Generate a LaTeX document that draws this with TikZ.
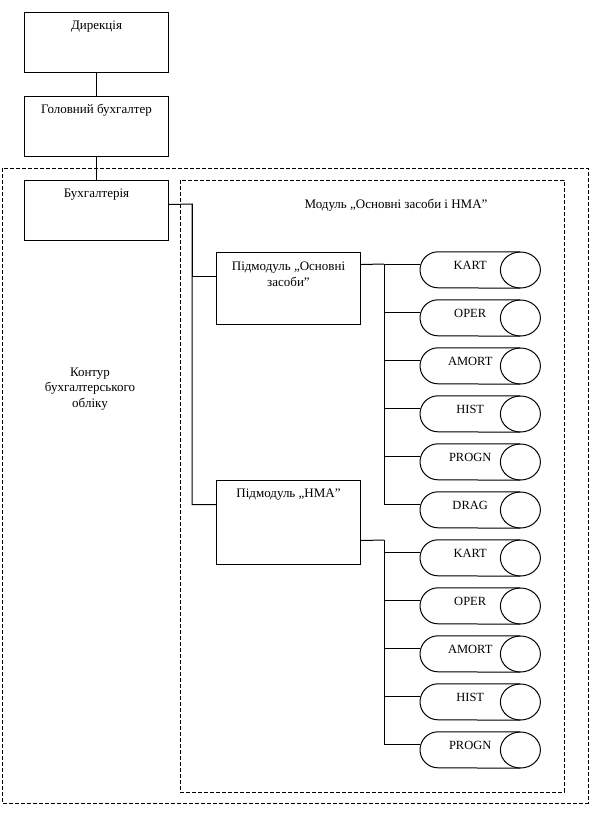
\documentclass[tikz,border=0pt]{standalone}
\usepackage{fontspec}
\setmainfont{Liberation Serif}
\usetikzlibrary{calc}

\begin{document}
\begin{tikzpicture}[x=1pt,y=-1pt,
 every node/.style={font=\fontsize{13}{15.5}\selectfont},
 ln/.style={line width=1pt},
 box/.style={ln,draw,rectangle,anchor=north west,minimum width=144pt,minimum height=60pt,inner sep=0pt,text height=17pt,text depth=43pt,align=center},
 tank/.style={rectangle,anchor=west,minimum width=100pt,minimum height=36pt,inner sep=0pt,text height=8pt,text depth=10pt,font=\fontsize{12.5}{14}\selectfont},
 contour/.style={ln,draw,dash pattern=on 4pt off 2pt}]
\useasboundingbox (0,0) rectangle (590,816);
\draw[contour] (2,168) rectangle (588,803);
\draw[contour] (180,180) rectangle (564,792);
\node[box] (dir) at (24,12) {Дирекція};
\node[box] (gb) at (24,96) {Головний бухгалтер};
\node[box] (bukh) at (24,180) {Бухгалтерія};
\node[box,minimum height=72pt,text height=33.5pt,text depth=38.5pt] (pos) at (216,252) {Підмодуль „Основні\\засоби”};
\node[box,minimum height=84pt,text depth=67pt] (nma) at (216,480) {Підмодуль „НМА”};
\node (modname) at (396,205) {Модуль „Основні засоби і НМА”};
\node[align=center] (kontur) at (90,389) {Контур\\бухгалтерського\\обліку};
\foreach \n/\t [count=\i from 0] in {a1/KART,a2/OPER,a3/AMORT,a4/HIST,a5/PROGN,a6/DRAG,b1/KART,b2/OPER,b3/AMORT,b4/HIST,b5/PROGN} {
 \node[tank] (\n) at (420,270+48*\i) {\t};
 \draw[ln] (\n.north east) -- ([xshift=18pt]\n.north west) arc[start angle=90,end angle=270,radius=18pt] -- (\n.south east);
 \draw[ln] (\n.east) ellipse[x radius=20pt,y radius=18pt];
}
\coordinate (busL) at (192,204);
\coordinate (busA) at (384,264);
\coordinate (busB) at (384,540);
\draw[ln] (dir.south) -- (gb.north);
\draw[ln] (gb.south) -- (bukh.north);
\draw[ln] ([yshift=6pt]bukh.east) -- (busL) |- ([yshift=18pt]nma.west);
\draw[ln] (busL) |- ([yshift=12pt]pos.west);
\draw[ln] ([yshift=24pt]pos.east) -- (busA);
\foreach \n in {a1,a2,a3,a4,a5,a6}
 \draw[ln] (busA) |- ([yshift=6pt]\n.west);
\draw[ln] ([yshift=-18pt]nma.east) -- (busB);
\foreach \n in {b1,b2,b3,b4,b5}
 \draw[ln] (busB) |- ([yshift=6pt]\n.west);
\end{tikzpicture}
\end{document}
